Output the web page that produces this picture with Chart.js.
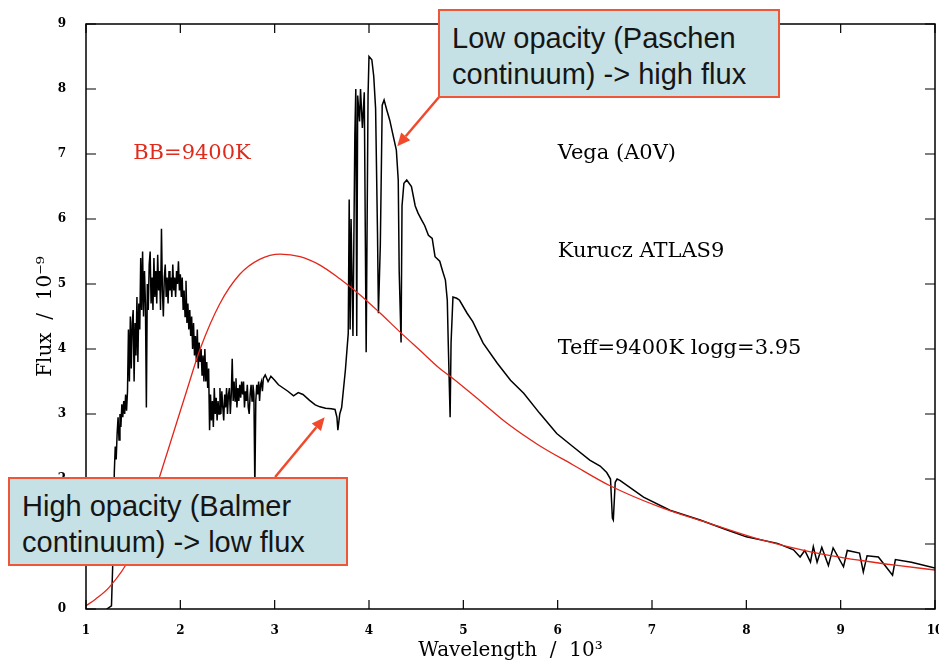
<!DOCTYPE html>
<html>
<head>
<meta charset="utf-8">
<script src="https://cdn.jsdelivr.net/npm/chart.js@4.4.1/dist/chart.umd.min.js"></script>
<style>
  html, body { margin: 0; padding: 0; background: #fff; }
  #wrap { position: relative; width: 939px; height: 663px; overflow: hidden; }
  #chart { position: absolute; left: 0; top: 0; }
  .callout {
    position: absolute;
    box-sizing: border-box;
    background: #c6e1e6;
    border: 2px solid #ef5637;
    font-family: "Liberation Sans", Arial, sans-serif;
    font-size: 29px;
    line-height: 36px;
    color: #151515;
    padding: 9px 0 0 12px;
    white-space: nowrap;
  }
</style>
</head>
<body>
<div id="wrap">
  <canvas id="chart" width="939" height="663"></canvas>
  <div class="callout" style="left:438px; top:9px; width:342px; height:89px;">Low opacity (Paschen<br>continuum) -&gt; high flux</div>
  <div class="callout" style="left:8px; top:477px; width:340px; height:89px;">High opacity (Balmer<br>continuum) -&gt; low flux</div>
</div>
<script>
// Vega model spectrum (Kurucz ATLAS9)
const specWave = [1.22,1.27,1.29,
  1.30,1.31,1.32,1.33,1.34,1.35,1.36,1.37,1.38,1.39,
  1.40,1.41,1.42,1.43,1.44,1.45,1.46,1.47,1.48,1.49,
  1.50,1.51,1.52,1.53,1.54,1.55,1.56,1.57,1.58,1.59,
  1.60,1.61,1.62,1.63,1.64,1.65,1.66,1.67,1.68,1.69,
  1.70,1.71,1.72,1.73,1.74,1.75,1.76,1.77,1.78,1.79,
  1.80,1.81,1.82,1.83,1.84,1.85,1.86,1.87,1.88,1.89,
  1.90,1.91,1.92,1.93,1.94,1.95,1.96,1.97,1.98,1.99,
  2.00,2.01,2.02,2.03,2.04,2.05,2.06,2.07,2.08,2.09,
  2.10,2.11,2.12,2.13,2.14,2.15,2.16,2.17,2.18,2.19,
  2.20,2.21,2.22,2.23,2.24,2.25,2.26,2.27,2.28,2.29,
  2.30,2.31,2.32,2.33,2.34,2.35,2.36,2.37,2.38,2.39,
  2.40,2.41,2.42,2.43,2.44,2.45,2.46,2.47,2.48,2.49,
  2.50,2.51,2.52,2.53,2.54,2.55,2.56,2.57,2.58,2.59,
  2.60,2.61,2.62,2.63,2.64,2.65,2.66,2.67,2.68,2.69,
  2.70,2.71,2.72,2.73,2.74,2.75,2.76,2.77,2.78,2.79,
  2.80,2.81,2.82,2.83,2.84,2.85,2.86,2.87,2.88,2.90,
  2.93,2.96,3.00,3.04,3.09,3.14,3.20,3.25,3.30,3.37,3.43,3.48,3.54,3.60,3.64,3.66,3.67,3.69,3.71,3.75,
  3.78,3.79,3.80,3.81,3.83,3.85,3.86,3.87,3.88,3.90,3.91,3.93,3.95,3.97,3.99,4.00,4.03,4.05,4.07,4.09,
  4.10,4.12,4.14,4.16,4.19,4.22,4.25,4.29,4.31,4.32,4.34,4.35,4.37,4.40,4.45,4.49,4.52,4.56,4.59,4.63,
  4.67,4.70,4.75,4.78,4.81,4.83,4.84,4.86,4.87,4.89,4.93,4.96,5.04,5.10,5.21,5.36,5.50,5.64,5.81,5.99,
  6.16,6.34,6.45,6.52,6.56,6.58,6.59,6.61,6.63,6.66,6.91,7.19,7.51,7.79,8.00,8.33,8.50,8.57,8.62,8.68,
  8.71,8.75,8.80,8.87,8.92,9.03,9.07,9.20,9.24,9.28,9.40,9.55,9.58,9.75,10.0];
const specFlux = [0,0.05,1.0,
  2.1,2.5,2.3,2.7,2.95,2.6,3.0,2.8,3.15,2.95,
  3.2,3.0,3.3,3.05,3.35,4.3,3.5,4.5,3.7,4.4,
  4.6,3.5,4.4,3.9,4.8,3.8,4.7,4.3,5.4,4.6,
  5.5,4.5,5.2,4.7,3.1,5.0,4.6,5.3,5.5,4.7,
  5.1,4.6,5.4,4.8,5.2,4.7,5.45,4.9,5.2,4.6,
  5.85,4.9,4.5,5.1,5.3,4.8,5.1,4.7,5.2,4.9,
  5.1,4.8,5.3,4.9,5.1,4.8,5.2,5.0,5.35,4.9,
  5.15,4.8,5.1,4.6,4.9,4.5,5.05,4.4,4.7,4.3,
  4.6,4.2,4.5,4.0,4.4,3.9,4.2,3.8,4.3,3.7,
  4.1,3.8,4.0,3.6,3.9,3.5,4.0,3.5,3.8,3.4,
  3.7,2.75,3.3,2.9,3.2,2.8,3.4,3.0,3.25,2.9,
  3.2,3.0,3.4,3.0,3.35,3.1,2.9,3.3,3.1,3.4,
  3.0,3.3,3.4,3.0,3.3,3.85,3.2,3.5,3.2,3.55,
  3.1,3.4,3.2,3.45,3.25,3.5,3.3,3.5,3.1,3.35,
  3.2,3.45,3.1,3.0,3.3,3.45,3.2,3.45,3.3,1.85,
  3.2,3.45,3.3,3.5,3.2,3.45,3.5,3.35,3.55,3.6,
  3.5,3.58,3.52,3.45,3.4,3.35,3.28,3.33,3.3,3.21,3.14,3.11,3.09,3.08,3.07,2.95,2.75,3.0,3.1,3.68,
  4.24,6.3,4.3,6.0,4.2,7.3,8.0,4.2,7.9,7.5,8.0,7.4,7.95,3.95,7.9,8.5,8.45,8.2,7.7,5.8,
  4.55,5.6,7.75,7.83,7.67,7.52,7.32,7.06,6.6,5.2,4.1,6.2,6.55,6.6,6.5,6.2,6.09,5.98,5.9,5.75,
  5.7,5.42,5.35,5.2,5.06,4.75,4.1,2.95,4.1,4.8,4.78,4.75,4.55,4.42,4.09,3.78,3.52,3.32,3.01,2.7,
  2.5,2.29,2.2,2.1,2.0,1.4,1.37,1.95,2.0,1.98,1.72,1.52,1.37,1.22,1.11,1.01,0.91,0.8,0.9,0.72,
  0.96,0.72,0.95,0.67,0.94,0.65,0.9,0.86,0.57,0.82,0.8,0.52,0.76,0.72,0.63];

// Black body, T = 9400 K
const bbWave = [1.0,1.1,1.25,1.47,1.64,1.86,2.07,2.21,2.42,2.63,2.84,3.06,3.27,3.48,3.69,3.9,4.12,
  4.33,4.54,4.75,4.86,5.18,5.46,5.8,6.16,6.55,7.08,7.6,8.14,8.68,9.2,9.6,10.0];
const bbFlux = [0.05,0.15,0.34,0.8,1.42,2.4,3.37,4.0,4.7,5.15,5.38,5.46,5.42,5.29,5.08,4.84,4.55,
  4.26,3.98,3.70,3.58,3.2,2.86,2.52,2.22,1.9,1.57,1.32,1.07,0.88,0.75,0.67,0.6];

const xTicks = [1,2,3,4,5,6,7,8,9,10];
const yTicks = [0,1,2,3,4,5,6,7,8,9];

// labels written inside the plot (data coordinates)
const noteText = ['BB=9400K', 'Vega (A0V)', 'Kurucz ATLAS9', 'Teff=9400K logg=3.95'];
const noteX = [1.5, 6.0, 6.0, 6.0];
const noteY = [7.0, 7.0, 5.5, 4.0];
const noteColor = ['#e02a1c', '#000', '#000', '#000'];

// callout arrows: [fromX, fromY, toX, toY] in data units
const arrows = [
  [4.745, 7.88, 4.30, 7.12],
  [3.005, 2.03, 3.53, 2.95]
];

const pgFrame = {
  id: 'pgFrame',
  afterDatasetsDraw(chart) {
    const {ctx, chartArea: a, scales: {x, y}} = chart;
    ctx.save();
    ctx.strokeStyle = '#000';
    ctx.lineWidth = 1.5;
    ctx.strokeRect(a.left, a.top, a.right - a.left, a.bottom - a.top);

    // inward ticks on all four sides
    ctx.lineWidth = 1.2;
    ctx.beginPath();
    xTicks.forEach(v => {
      const px = x.getPixelForValue(v);
      ctx.moveTo(px, a.bottom); ctx.lineTo(px, a.bottom - 9);
      ctx.moveTo(px, a.top); ctx.lineTo(px, a.top + 9);
    });
    yTicks.forEach(v => {
      const py = y.getPixelForValue(v);
      ctx.moveTo(a.left, py); ctx.lineTo(a.left + 10, py);
      ctx.moveTo(a.right, py); ctx.lineTo(a.right - 10, py);
    });
    ctx.stroke();

    ctx.font = '21px "DejaVu Serif", serif';
    ctx.textBaseline = 'middle';
    ctx.textAlign = 'left';
    noteText.forEach((t, i) => {
      ctx.fillStyle = noteColor[i];
      ctx.fillText(t, x.getPixelForValue(noteX[i]), y.getPixelForValue(noteY[i]));
    });

    // red arrows
    ctx.strokeStyle = '#f0492c';
    ctx.fillStyle = '#f0492c';
    ctx.lineWidth = 2.5;
    arrows.forEach(([x0, y0, x1, y1]) => {
      const ax = x.getPixelForValue(x0), ay = y.getPixelForValue(y0);
      const bx = x.getPixelForValue(x1), by = y.getPixelForValue(y1);
      const ang = Math.atan2(by - ay, bx - ax);
      const hl = 13, hw = 6;
      const cx = bx - hl * Math.cos(ang), cy = by - hl * Math.sin(ang);
      ctx.beginPath();
      ctx.moveTo(ax, ay);
      ctx.lineTo(cx, cy);
      ctx.stroke();
      ctx.beginPath();
      ctx.moveTo(bx, by);
      ctx.lineTo(cx + hw * Math.sin(ang), cy - hw * Math.cos(ang));
      ctx.lineTo(cx - hw * Math.sin(ang), cy + hw * Math.cos(ang));
      ctx.closePath();
      ctx.fill();
    });
    ctx.restore();
  }
};

const tickFont = {family: '"DejaVu Serif", serif', size: 12, weight: 'bold'};
const titleFont = {family: '"DejaVu Serif", serif', size: 20};

new Chart(document.getElementById('chart'), {
  type: 'line',
  data: {
    datasets: [
      {
        label: 'BB=9400K',
        data: bbWave.map((w, i) => ({x: w, y: bbFlux[i]})),
        borderColor: '#e3261a',
        borderWidth: 1.3,
        pointRadius: 0,
        cubicInterpolationMode: 'monotone',
        fill: false
      },
      {
        label: 'Vega (A0V)',
        data: specWave.map((w, i) => ({x: w, y: specFlux[i]})),
        borderColor: '#000',
        borderWidth: 1.5,
        pointRadius: 0,
        tension: 0,
        fill: false
      }
    ]
  },
  options: {
    responsive: false,
    animation: false,
    devicePixelRatio: 1,
    layout: {padding: {top: 24, right: 4, left: 30, bottom: 0}},
    plugins: {legend: {display: false}, tooltip: {enabled: false}},
    scales: {
      x: {
        type: 'linear',
        min: 1,
        max: 10,
        grid: {display: false},
        border: {display: false},
        ticks: {stepSize: 1, color: '#000', font: tickFont, padding: 7, maxRotation: 0},
        title: {display: true, text: 'Wavelength  /  10³', color: '#000', font: titleFont, padding: {top: 0, bottom: 0}},
        afterFit(s) { s.height = 54; s.paddingLeft = 0; s.paddingRight = 0; }
      },
      y: {
        min: 0,
        max: 9,
        grid: {display: false},
        border: {display: false},
        ticks: {stepSize: 1, color: '#000', font: tickFont, padding: 12},
        title: {display: true, text: 'Flux  /  10⁻⁹', color: '#000', font: titleFont, padding: {top: 4, bottom: 0}},
        afterFit(s) { s.width = 56; s.paddingTop = 0; s.paddingBottom = 0; }
      }
    }
  },
  plugins: [pgFrame]
});
</script>
</body>
</html>
